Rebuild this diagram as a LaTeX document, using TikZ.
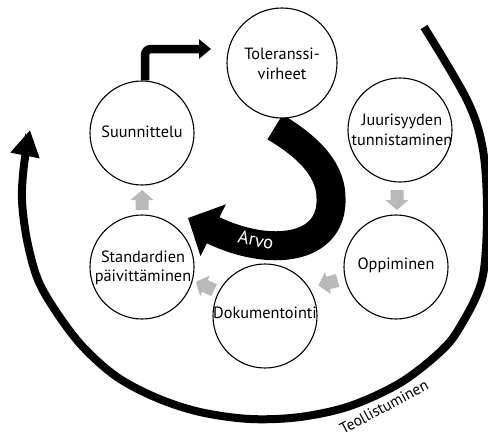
\documentclass[tikz,border=0pt]{standalone}
\usepackage{fontspec}
\setmainfont{PT Sans}
\usetikzlibrary{arrows.meta}
\begin{document}
\begin{tikzpicture}[x=1pt,y=-1pt,
  bub/.style={circle,draw=black,fill=white,line width=1.1pt,minimum size=104pt,inner sep=0pt},
  txt/.style={font=\fontsize{16.3}{19.5}\selectfont,align=center,inner sep=0pt},
  garr/.pic={\fill[gray!55] (-10,-6.5) -- (0,-6.5) -- (0,-11.5) -- (10,0) -- (0,11.5) -- (0,6.5) -- (-10,6.5) -- cycle;},
  thick arc/.style={line width=8pt,line cap=butt},
]
\useasboundingbox (0,0) rectangle (488,439);

% big outer arc
\coordinate (arcstart) at (424,27);
\coordinate (arcend) at (30,130);
\draw[thick arc,-{Triangle[width=28pt,length=26pt]}]
  plot[smooth,tension=0.55] coordinates {(424,27) (467,100) (483,150) (487,215) (482,280) (460,327) (440,352) (400,383) (350,406) (300,417) (250,419) (200,412) (157,398) (117,377) (83,347) (57,313) (38,280) (27,240) (22,200) (24,165) (30,130)};

\node[txt,font=\fontsize{15.5}{18}\selectfont,rotate=28] (teol) at (384,407) {Teollistuminen};

% Arvo arrow
\coordinate (arvostart) at (275,127);
\coordinate (arvotip) at (188,218);
\draw[line width=29pt,line cap=butt,-{Triangle[width=56pt,length=28pt]}]
  (arvostart) .. controls (300,142) and (331,165) .. (331,198)
  .. controls (333,250) and (270,258) .. (arvotip);
\node[txt,text=white,font=\fontsize{18.5}{20}\selectfont,rotate=-12] (arvo) at (256,240) {Arvo};

% circles
\node[bub,minimum size=110pt] (tol) at (282,63) {};
\node[bub] (suun) at (142,133) {};
\node[bub] (juur) at (400,130) {};
\node[bub] (opp) at (396,267) {};
\node[bub] (dok) at (265,316) {};
\node[bub] (std) at (142,267) {};

\node[txt] (toltxt) at (282,64) {Toleranssi-\\virheet};
\node[txt] (suuntxt) at (142,132) {Suunnittelu};
\node[txt] (juurtxt) at (402,130) {Juurisyyden\\tunnistaminen};
\node[txt] (opptxt) at (396,265) {Oppiminen};
\node[txt] (doktxt) at (265,313) {Dokumentointi};
\node[txt] (stdtxt) at (143,268) {Standardien\\päivittäminen};

% elbow arrow
\coordinate (elbowend) at (211,49);
\draw[line width=8.5pt,line cap=butt,rounded corners=6pt,-{Triangle[width=19pt,length=12pt]}]
  ([xshift=3pt]suun.north) -- ([xshift=3pt]suun.north |- elbowend) -- (elbowend);

% gray arrows
\pic[rotate=90] at (142,200) {garr};
\pic[rotate=-90] at (397,200) {garr};
\pic[rotate=195] at (328,283) {garr};
\pic[rotate=155] at (205,286) {garr};
\end{tikzpicture}
\end{document}
